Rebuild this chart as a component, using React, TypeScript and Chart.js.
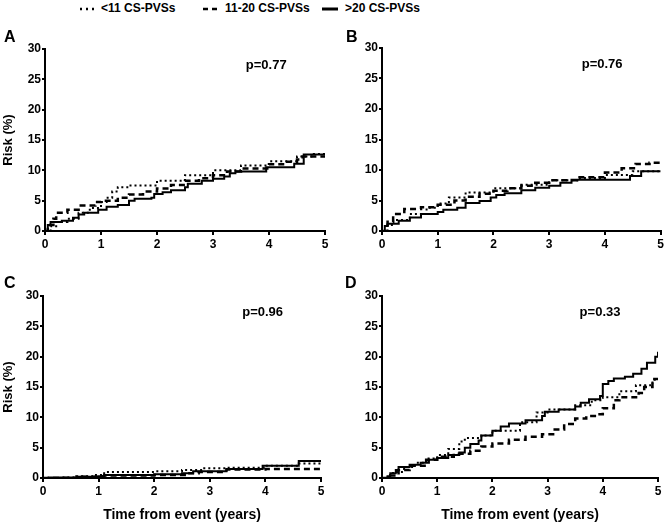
import React, { useEffect, useRef } from "react";
import { Chart, registerables } from "chart.js";
Chart.register(...registerables);

const SERIES_LABELS = ["<11 CS-PVSs", "11-20 CS-PVSs", ">20 CS-PVSs"];
const PANEL_LETTERS = ["A", "B", "C", "D"];
const P_VALUES = ["p=0.77", "p=0.76", "p=0.96", "p=0.33"];
const X_TITLE = "Time from event (years)";
const Y_TITLE = "Risk (%)";
const X_MAX = 5;
const Y_MAX = 30;

// Panel A
const A_DOT_T = [0, 0.1, 0.2, 0.4, 0.6, 0.8, 1.0, 1.1, 1.2, 1.3, 1.5, 2.0, 2.5, 3.0, 3.5, 4.0, 4.5, 4.8, 5.0];
const A_DOT_V = [0, 0.8, 1.5, 2.0, 3.0, 3.8, 4.8, 5.5, 6.5, 7.2, 7.5, 8.3, 9.2, 10.0, 10.8, 11.5, 12.3, 12.7, 12.7];
const A_DASH_T = [0, 0.05, 0.15, 0.2, 0.4, 0.6, 0.9, 1.0, 1.3, 1.5, 1.75, 2.0, 2.25, 2.5, 2.75, 3.0, 3.25, 3.5, 4.0, 4.3, 4.5, 4.6, 5.0];
const A_DASH_V = [0, 1.0, 2.0, 3.0, 3.5, 4.2, 4.8, 5.0, 5.5, 6.0, 6.5, 7.0, 7.6, 8.3, 8.7, 9.2, 9.8, 10.3, 11.0, 11.4, 11.8, 12.3, 12.5];
const A_SOLID_T = [0, 0.05, 0.1, 0.3, 0.5, 0.6, 0.7, 0.95, 1.1, 1.3, 1.5, 1.6, 1.9, 1.95, 2.1, 2.25, 2.5, 2.55, 2.8, 3.0, 3.2, 3.3, 3.4, 3.95, 4.45, 4.62, 5.0];
const A_SOLID_V = [0, 1.0, 1.5, 1.7, 2.2, 2.7, 3.0, 3.5, 4.0, 4.3, 5.0, 5.3, 5.5, 6.1, 6.4, 6.7, 7.2, 7.8, 8.3, 8.6, 9.0, 9.5, 9.8, 10.5, 11.1, 12.6, 12.6];

// Panel B
const B_DOT_T = [0, 0.1, 0.2, 0.5, 0.8, 1.0, 1.2, 1.5, 2.0, 2.5, 3.0, 3.5, 4.0, 4.5, 5.0];
const B_DOT_V = [0, 1.0, 1.8, 2.8, 3.8, 4.5, 5.5, 6.3, 7.0, 7.6, 8.3, 8.7, 9.2, 9.8, 10.0];
const B_DASH_T = [0, 0.1, 0.2, 0.4, 0.7, 1.0, 1.3, 1.5, 1.75, 2.0, 2.25, 2.5, 2.75, 3.0, 3.5, 4.0, 4.3, 4.55, 4.8, 5.0];
const B_DASH_V = [0, 1.5, 2.8, 3.6, 3.9, 4.3, 5.0, 5.6, 6.1, 6.6, 7.0, 7.4, 7.9, 8.3, 8.8, 9.6, 10.3, 11.0, 11.2, 11.2];
const B_SOLID_T = [0, 0.05, 0.1, 0.3, 0.5, 0.7, 1.0, 1.1, 1.35, 1.5, 1.75, 1.95, 2.05, 2.2, 2.5, 2.75, 3.0, 3.2, 3.4, 4.45, 4.65, 5.0];
const B_SOLID_V = [0, 0.8, 1.2, 1.7, 2.2, 2.8, 3.1, 3.5, 3.8, 4.6, 4.9, 5.5, 5.9, 6.2, 6.7, 7.1, 7.4, 7.9, 8.4, 9.0, 9.8, 9.8];

// Panel C
const C_DOT_T = [0, 0.3, 0.6, 0.9, 1.1, 2.0, 2.5, 2.9, 3.3, 4.0, 4.6, 5.0];
const C_DOT_V = [0, 0.1, 0.3, 0.5, 1.0, 1.1, 1.3, 1.6, 1.7, 2.0, 2.4, 2.4];
const C_DASH_T = [0, 0.7, 1.0, 1.1, 2.0, 2.6, 2.8, 3.3, 4.0, 5.0];
const C_DASH_V = [0, 0.2, 0.3, 0.4, 0.5, 0.8, 1.0, 1.4, 1.5, 1.5];
const C_SOLID_T = [0, 0.1, 0.6, 1.0, 1.1, 2.0, 2.5, 2.7, 3.3, 3.95, 4.6, 5.0];
const C_SOLID_V = [0, 0.1, 0.2, 0.3, 0.5, 0.6, 0.8, 1.1, 1.5, 2.0, 2.8, 2.8];

// Panel D
const D_DOT_T = [0, 0.1, 0.2, 0.4, 0.6, 0.8, 1.0, 1.2, 1.4, 1.5, 1.8, 2.0, 2.5, 2.8, 3.0, 3.5, 3.8, 4.0, 4.3, 4.6, 4.9, 5.0];
const D_DOT_V = [0, 0.5, 1.0, 1.8, 2.5, 3.2, 3.8, 4.8, 6.0, 6.6, 7.0, 7.8, 9.2, 10.8, 11.3, 12.0, 12.8, 13.3, 14.3, 15.3, 16.2, 16.3];
const D_DASH_T = [0, 0.1, 0.3, 0.5, 0.8, 1.0, 1.3, 1.6, 1.8, 2.0, 2.3, 2.6, 2.9, 3.1, 3.3, 3.5, 3.7, 3.9, 4.0, 4.2, 4.3, 4.65, 4.75, 4.9, 5.0];
const D_DASH_V = [0, 0.4, 1.3, 2.0, 3.0, 3.5, 4.0, 4.5, 5.2, 5.7, 6.3, 6.8, 7.2, 8.0, 8.9, 9.8, 10.2, 10.5, 11.5, 12.8, 13.3, 14.0, 15.0, 16.3, 16.5];
const D_SOLID_T = [0, 0.1, 0.15, 0.25, 0.3, 0.5, 0.7, 0.85, 1.0, 1.2, 1.4, 1.5, 1.6, 1.75, 1.8, 2.0, 2.15, 2.3, 2.6, 2.9, 2.95, 3.2, 3.5, 3.6, 3.75, 3.95, 4.0, 4.1, 4.2, 4.4, 4.55, 4.7, 4.8, 4.95, 5.0];
const D_SOLID_V = [0, 0.3, 0.8, 1.3, 1.8, 2.2, 2.5, 3.0, 3.3, 3.8, 4.2, 5.0, 5.6, 6.2, 7.0, 7.8, 8.5, 9.0, 9.5, 10.2, 10.9, 11.3, 11.8, 12.4, 13.0, 13.5, 15.5, 16.0, 16.4, 16.7, 17.2, 18.0, 19.0, 20.0, 20.8];

const FONT = "'Liberation Sans', Arial, Helvetica, sans-serif";

const zip = (t: number[], v: number[]) => t.map((x, i) => ({ x, y: v[i] }));

type Panel = {
  letter: string;
  p: string;
  series: [number[], number[]][];
  left: number;
  top: number;
  width: number;
  height: number;
  padding: { left: number; right: number; top: number; bottom: number };
  yWidth: number;
  xHeight: number;
  showX: boolean;
  showY: boolean;
  letterLeft: number;
  letterTop: number;
};

const PANELS: Panel[] = [
  {
    letter: PANEL_LETTERS[0], p: P_VALUES[0],
    series: [[A_DOT_T, A_DOT_V], [A_DASH_T, A_DASH_V], [A_SOLID_T, A_SOLID_V]],
    left: 0, top: 28, width: 333, height: 242,
    padding: { left: 0, right: 8, top: 21, bottom: 0 }, yWidth: 45, xHeight: 39,
    showX: false, showY: true, letterLeft: 4, letterTop: 28,
  },
  {
    letter: PANEL_LETTERS[1], p: P_VALUES[1],
    series: [[B_DOT_T, B_DOT_V], [B_DASH_T, B_DASH_V], [B_SOLID_T, B_SOLID_V]],
    left: 333, top: 28, width: 333, height: 242,
    padding: { left: 0, right: 4, top: 20, bottom: 0 }, yWidth: 49, xHeight: 39,
    showX: false, showY: false, letterLeft: 346, letterTop: 28,
  },
  {
    letter: PANEL_LETTERS[2], p: P_VALUES[2],
    series: [[C_DOT_T, C_DOT_V], [C_DASH_T, C_DASH_V], [C_SOLID_T, C_SOLID_V]],
    left: 0, top: 270, width: 333, height: 254,
    padding: { left: 0, right: 12, top: 26, bottom: 0 }, yWidth: 43, xHeight: 46,
    showX: true, showY: true, letterLeft: 4, letterTop: 274,
  },
  {
    letter: PANEL_LETTERS[3], p: P_VALUES[3],
    series: [[D_DOT_T, D_DOT_V], [D_DASH_T, D_DASH_V], [D_SOLID_T, D_SOLID_V]],
    left: 333, top: 270, width: 333, height: 254,
    padding: { left: 0, right: 8, top: 26, bottom: 0 }, yWidth: 49, xHeight: 46,
    showX: true, showY: false, letterLeft: 345, letterTop: 274,
  },
];

const STYLES = [
  { borderWidth: 2, borderDash: [2, 3] },
  { borderWidth: 2.5, borderDash: [6, 4] },
  { borderWidth: 2, borderDash: [] as number[] },
];

const pValuePlugin = {
  id: "pvalue",
  afterDraw(chart: any) {
    const text = chart.options.plugins.pvalue?.text;
    if (!text) return;
    const { ctx, scales } = chart;
    const px = scales.x.getPixelForValue(3.95);
    const py = scales.y.getPixelForValue(27.3);
    ctx.save();
    ctx.font = `bold 13px ${FONT}`;
    ctx.fillStyle = "#000";
    ctx.textAlign = "center";
    ctx.textBaseline = "middle";
    ctx.fillText(text, px, py);
    ctx.restore();
  },
};

function PanelChart({ panel }: { panel: Panel }) {
  const ref = useRef<HTMLCanvasElement>(null);
  useEffect(() => {
    if (!ref.current) return;
    const tickFont = { family: FONT, weight: "bold" as const, size: 12 };
    const chart = new Chart(ref.current, {
      type: "line",
      data: {
        datasets: panel.series.map(([t, v], i) => ({
          label: SERIES_LABELS[i],
          data: zip(t, v),
          borderColor: "#000",
          backgroundColor: "#000",
          borderWidth: STYLES[i].borderWidth,
          borderDash: STYLES[i].borderDash,
          stepped: true,
          pointRadius: 0,
          fill: false,
        })),
      },
      options: {
        animation: false,
        responsive: false,
        maintainAspectRatio: false,
        layout: { padding: panel.padding },
        plugins: {
          legend: { display: false },
          tooltip: { enabled: false },
          pvalue: { text: panel.p },
        } as any,
        scales: {
          x: {
            type: "linear",
            min: 0,
            max: X_MAX,
            ticks: { stepSize: 1, font: tickFont, color: "#000", padding: 2, maxRotation: 0, autoSkip: false },
            grid: { drawOnChartArea: false, drawTicks: true, tickLength: 4, color: "#000", lineWidth: 2 },
            border: { display: true, color: "#000", width: 2 },
            title: {
              display: panel.showX,
              text: X_TITLE,
              color: "#000",
              font: { family: FONT, weight: "bold", size: 14 },
              padding: { top: 0, bottom: 0 },
            },
            afterFit: (s: any) => { s.height = panel.xHeight; },
          },
          y: {
            type: "linear",
            min: 0,
            max: Y_MAX,
            ticks: { stepSize: 5, font: tickFont, color: "#000", padding: 1 },
            grid: { drawOnChartArea: false, drawTicks: true, tickLength: 3, color: "#000", lineWidth: 2 },
            border: { display: true, color: "#000", width: 2 },
            title: {
              display: panel.showY,
              text: Y_TITLE,
              color: "#000",
              font: { family: FONT, weight: "bold", size: 13 },
              padding: { top: 1, bottom: 0 },
            },
            afterFit: (s: any) => { s.width = panel.yWidth; },
          },
        },
      } as any,
      plugins: [pValuePlugin],
    });
    return () => chart.destroy();
  }, [panel]);
  return (
    <canvas
      ref={ref}
      width={panel.width}
      height={panel.height}
      style={{ position: "absolute", left: panel.left, top: panel.top, width: panel.width, height: panel.height }}
    />
  );
}

function LegendSample({ kind }: { kind: number }) {
  const dash = kind === 0 ? "2 4" : kind === 1 ? "5 4" : undefined;
  const w = kind === 2 ? 3 : 2.5;
  return (
    <svg width={16} height={6} style={{ display: "block" }}>
      <line x1={0} y1={3} x2={16} y2={3} stroke="#000" strokeWidth={w} strokeDasharray={dash} />
    </svg>
  );
}

const LEGEND_POS = [
  { sample: 80, text: 101 },
  { sample: 203, text: 225 },
  { sample: 322, text: 345 },
];

export default function App() {
  const textStyle: React.CSSProperties = {
    position: "absolute",
    fontFamily: FONT,
    fontWeight: "bold",
    color: "#000",
    whiteSpace: "nowrap",
  };
  return (
    <div style={{ position: "absolute", left: 0, top: 0, width: 666, height: 524, background: "#fff", overflow: "hidden" }}>
      {SERIES_LABELS.map((lab, i) => (
        <React.Fragment key={lab}>
          <div style={{ position: "absolute", left: LEGEND_POS[i].sample, top: 6 }}>
            <LegendSample kind={i} />
          </div>
          <div style={{ ...textStyle, left: LEGEND_POS[i].text, top: 0, fontSize: 12, lineHeight: "16px" }}>{lab}</div>
        </React.Fragment>
      ))}
      {PANELS.map((p) => (
        <React.Fragment key={p.letter}>
          <PanelChart panel={p} />
          <div style={{ ...textStyle, left: p.letterLeft, top: p.letterTop, fontSize: 16, lineHeight: "18px" }}>{p.letter}</div>
        </React.Fragment>
      ))}
    </div>
  );
}
